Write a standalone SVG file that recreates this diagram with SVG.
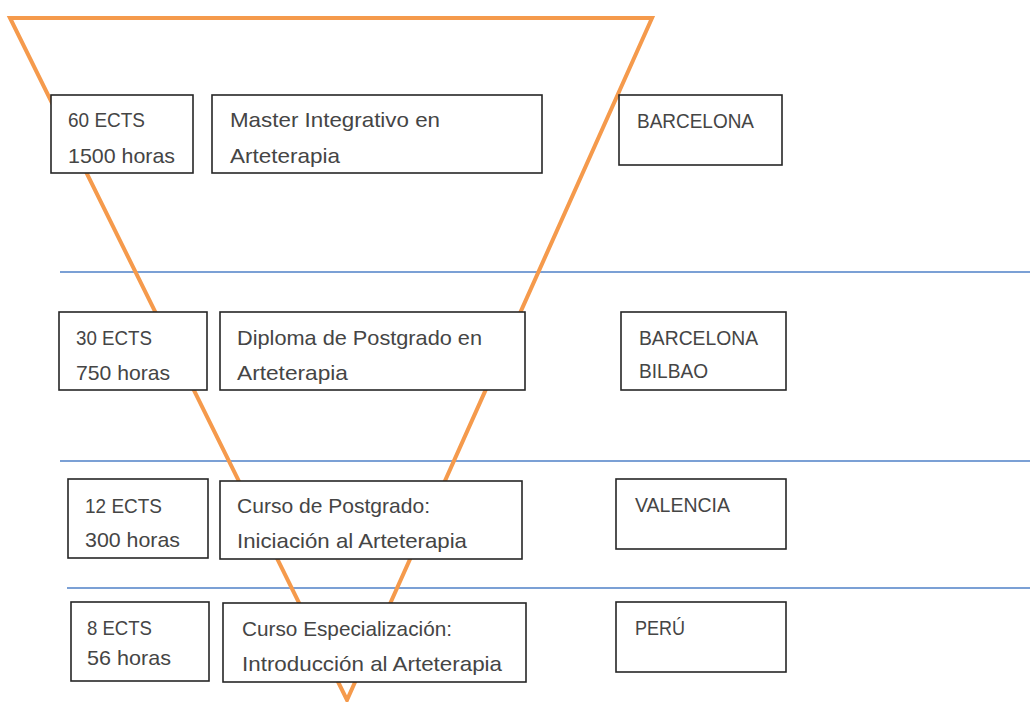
<svg xmlns="http://www.w3.org/2000/svg" width="1030" height="702" viewBox="0 0 1030 702">
<style>
.box{fill:#fff;stroke:#262626;stroke-width:1.6}
.t{font-family:"Liberation Sans",Arial,sans-serif;font-size:21px;fill:#454545}
.sep{stroke:#4f81c7;stroke-width:1.6}
.tri{fill:none;stroke:#f59a4c;stroke-width:4;stroke-linejoin:miter}
</style>
<rect width="1030" height="702" fill="#fff"/>
<g id="separators">
<line class="sep" x1="60" y1="272" x2="1030" y2="272"/>
<line class="sep" x1="60" y1="461" x2="1030" y2="461"/>
<line class="sep" x1="67" y1="588" x2="1030" y2="588"/>
</g>
<g id="funnel">
<polygon class="tri" points="10,18 652,18 347,700"/>
</g>
<g id="row1-ects"><rect class="box" x="51" y="95" width="142" height="78"/><text class="t" x="68" y="127" textLength="77" lengthAdjust="spacingAndGlyphs">60 ECTS</text><text class="t" x="68" y="163" textLength="107" lengthAdjust="spacingAndGlyphs">1500 horas</text></g>
<g id="row1-title"><rect class="box" x="212" y="95" width="330" height="78"/><text class="t" x="230" y="127" textLength="210" lengthAdjust="spacingAndGlyphs">Master Integrativo en</text><text class="t" x="230" y="163" textLength="110" lengthAdjust="spacingAndGlyphs">Arteterapia</text></g>
<g id="row1-city"><rect class="box" x="619" y="95" width="163" height="70"/><text class="t" x="637" y="128" textLength="117" lengthAdjust="spacingAndGlyphs">BARCELONA</text></g>

<g id="row2-ects"><rect class="box" x="59" y="312" width="148" height="78"/><text class="t" x="76" y="345" textLength="76" lengthAdjust="spacingAndGlyphs">30 ECTS</text><text class="t" x="76" y="380" textLength="94" lengthAdjust="spacingAndGlyphs">750 horas</text></g>
<g id="row2-title"><rect class="box" x="220" y="312" width="305" height="78"/><text class="t" x="237" y="345" textLength="245" lengthAdjust="spacingAndGlyphs">Diploma de Postgrado en</text><text class="t" x="237" y="380" textLength="111" lengthAdjust="spacingAndGlyphs">Arteterapia</text></g>
<g id="row2-city"><rect class="box" x="621" y="312" width="165" height="78"/><text class="t" x="639" y="345" textLength="119" lengthAdjust="spacingAndGlyphs">BARCELONA</text><text class="t" x="639" y="378" textLength="69" lengthAdjust="spacingAndGlyphs">BILBAO</text></g>

<g id="row3-ects"><rect class="box" x="68" y="479" width="140" height="79"/><text class="t" x="85" y="513" textLength="77" lengthAdjust="spacingAndGlyphs">12 ECTS</text><text class="t" x="85" y="547" textLength="95" lengthAdjust="spacingAndGlyphs">300 horas</text></g>
<g id="row3-title"><rect class="box" x="220" y="481" width="302" height="78"/><text class="t" x="237" y="513" textLength="193" lengthAdjust="spacingAndGlyphs">Curso de Postgrado:</text><text class="t" x="237" y="548" textLength="230" lengthAdjust="spacingAndGlyphs">Iniciación al Arteterapia</text></g>
<g id="row3-city"><rect class="box" x="616" y="479" width="170" height="70"/><text class="t" x="635" y="512" textLength="95" lengthAdjust="spacingAndGlyphs">VALENCIA</text></g>

<g id="row4-ects"><rect class="box" x="71" y="602" width="138" height="79"/><text class="t" x="87" y="635" textLength="65" lengthAdjust="spacingAndGlyphs">8 ECTS</text><text class="t" x="87" y="665" textLength="84" lengthAdjust="spacingAndGlyphs">56 horas</text></g>
<g id="row4-title"><rect class="box" x="223" y="603" width="303" height="79"/><text class="t" x="242" y="636" textLength="210" lengthAdjust="spacingAndGlyphs">Curso Especialización:</text><text class="t" x="242" y="671" textLength="260" lengthAdjust="spacingAndGlyphs">Introducción al Arteterapia</text></g>
<g id="row4-city"><rect class="box" x="616" y="602" width="170" height="70"/><text class="t" x="635" y="635" textLength="50" lengthAdjust="spacingAndGlyphs">PERÚ</text></g>
</svg>
